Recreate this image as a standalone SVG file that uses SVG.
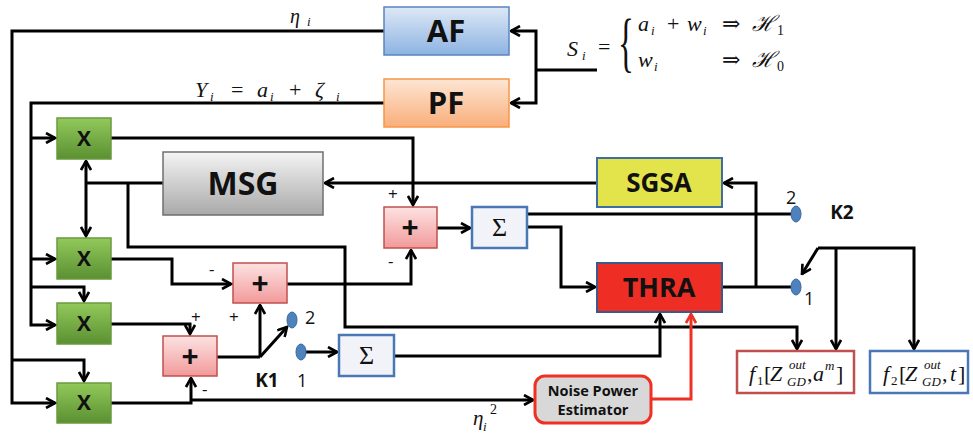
<svg xmlns="http://www.w3.org/2000/svg" width="973" height="438" viewBox="0 0 973 438">
<defs>
<linearGradient id="gAF" x1="0" y1="0" x2="0" y2="1"><stop offset="0" stop-color="#dde8f6"/><stop offset="1" stop-color="#8db3e2"/></linearGradient>
<linearGradient id="gPF" x1="0" y1="0" x2="0" y2="1"><stop offset="0" stop-color="#fde6d4"/><stop offset="1" stop-color="#f9ae7a"/></linearGradient>
<linearGradient id="gX" x1="0" y1="0" x2="0" y2="1"><stop offset="0" stop-color="#92c95a"/><stop offset="1" stop-color="#5b9032"/></linearGradient>
<linearGradient id="gMSG" x1="0" y1="0" x2="0" y2="1"><stop offset="0" stop-color="#f4f4f4"/><stop offset="1" stop-color="#a9a9a9"/></linearGradient>
<linearGradient id="gPlus" x1="0" y1="0" x2="0" y2="1"><stop offset="0" stop-color="#fde2e2"/><stop offset="1" stop-color="#f29a9a"/></linearGradient>
<marker id="ah" viewBox="0 0 12 12" refX="10.5" refY="6" markerWidth="12" markerHeight="12" markerUnits="userSpaceOnUse" orient="auto"><path d="M1.5,1 L10.5,6 L1.5,11" fill="none" stroke="#000" stroke-width="2.6"/></marker>
<marker id="ahr" viewBox="0 0 12 12" refX="10.5" refY="6" markerWidth="12" markerHeight="12" markerUnits="userSpaceOnUse" orient="auto"><path d="M1.5,1 L10.5,6 L1.5,11" fill="none" stroke="#ee3124" stroke-width="2.6"/></marker>
<style>
.ln{fill:none;stroke:#000;stroke-width:3;}
.ar{marker-end:url(#ah);}
.red{fill:none;stroke:#ee3124;stroke-width:3;marker-end:url(#ahr);}
.lbl{font-family:"Open Sans","Liberation Sans",sans-serif;font-weight:bold;fill:#111;text-anchor:middle;}
.xb{fill:url(#gX);stroke:#6a9a40;stroke-width:1.5;}
.pb{fill:url(#gPlus);stroke:#c0504d;stroke-width:1.5;}
.sb{fill:#f1f3f8;stroke:#4a78b5;stroke-width:2.5;}
.dot{fill:#4f81bd;stroke:#3a6aa0;stroke-width:1;}
.m{font-family:"Liberation Serif","DejaVu Serif",serif;font-style:italic;fill:#111;}
.mr{font-family:"Liberation Serif","DejaVu Serif",serif;fill:#111;}
.sm{font-family:"Open Sans","Liberation Sans",sans-serif;fill:#111;}
</style>
</defs>
<rect width="973" height="438" fill="#fff"/>

<g id="connectors">
<path class="ln" d="M597,70 H536"/>
<path class="ln ar" d="M536,70 V31 H511"/>
<path class="ln ar" d="M536,70 V103 H511"/>
<path class="ln ar" d="M384,31 H12 V403 H55"/>
<path class="ln ar" d="M12,360 H84 V381"/>
<path class="ln ar" d="M384,103 H31 V325 H55"/>
<path class="ln ar" d="M31,138 H55"/>
<path class="ln ar" d="M31,259 H55"/>
<path class="ln ar" d="M31,287 H84 V301"/>
<path class="ln ar" d="M111,138 H413 V205"/>
<path class="ln ar" d="M597,183 H325"/>
<path class="ln" d="M163,183 H86"/>
<path class="ln ar" d="M86,183 V161"/>
<path class="ln ar" d="M86,183 V236"/>
<path class="ln ar" d="M128,183 V247 H345 V327 H797 V349"/>
<path class="ln ar" d="M437,228 H470"/>
<path class="ln" d="M527,214 H791"/>
<path class="ln ar" d="M527,227 H561 V287 H595"/>
<path class="ln" d="M722,287 H791"/>
<path class="ln ar" d="M756,287 V183 H724"/>
<path class="ln ar" d="M818,248 H914 V349"/>
<path class="ln ar" d="M836,248 V349"/>
<path class="ln ar" d="M818,248 L802,274"/>
<path class="ln ar" d="M111,259 H172 V284 H231"/>
<path class="ln ar" d="M287,284 H411 V250"/>
<path class="ln ar" d="M111,324 H190 V334"/>
<path class="ln" d="M217,357 H260"/>
<path class="ln ar" d="M260,357 V305"/>
<path class="ln ar" d="M260,357 L287,327"/>
<path class="ln ar" d="M305,352 H337"/>
<path class="ln ar" d="M394,356 H660 V314"/>
<path class="ln ar" d="M111,403 H191 V378"/>
<path class="ln ar" d="M191,400 H533"/>
<path class="red" d="M651,399 H691 V314"/>
</g>

<g id="AF"><rect x="384" y="7" width="125" height="48" fill="url(#gAF)" stroke="#5b84bd" stroke-width="1.5"/><text class="lbl" x="446" y="42" font-size="31">AF</text></g>
<g id="PF"><rect x="384" y="79" width="125" height="48" fill="url(#gPF)" stroke="#f79646" stroke-width="1.5"/><text class="lbl" x="446" y="114" font-size="31">PF</text></g>
<g id="X1"><rect class="xb" x="57" y="118" width="54" height="41"/><text class="lbl" x="84" y="146" font-size="21">X</text></g>
<g id="X2"><rect class="xb" x="57" y="238" width="54" height="41"/><text class="lbl" x="84" y="266" font-size="21">X</text></g>
<g id="X3"><rect class="xb" x="57" y="303" width="54" height="41"/><text class="lbl" x="84" y="331" font-size="21">X</text></g>
<g id="X4"><rect class="xb" x="57" y="383" width="54" height="40"/><text class="lbl" x="84" y="410" font-size="21">X</text></g>
<g id="MSG"><rect x="163" y="152" width="160" height="63" fill="url(#gMSG)" stroke="#6f6f6f" stroke-width="1.5"/><text class="lbl" x="243" y="195" font-size="32">MSG</text></g>
<g id="SGSA"><rect x="597" y="158" width="125" height="49" fill="#e3e34b" stroke="#3f6ea5" stroke-width="2"/><text class="lbl" x="659" y="192" font-size="26">SGSA</text></g>
<g id="THRA"><rect x="597" y="263" width="125" height="49" fill="#ee2e24" stroke="#3a5a8a" stroke-width="2"/><text class="lbl" x="659" y="297" font-size="27">THRA</text></g>
<g id="Plus1"><rect class="pb" x="384" y="207" width="53" height="41"/><text class="lbl" x="410" y="238" font-size="30">+</text></g>
<g id="Plus2"><rect class="pb" x="233" y="263" width="54" height="40"/><text class="lbl" x="260" y="294" font-size="30">+</text></g>
<g id="Plus3"><rect class="pb" x="163" y="336" width="54" height="40"/><text class="lbl" x="190" y="367" font-size="30">+</text></g>
<g id="Sigma1"><rect class="sb" x="472" y="207" width="55" height="41"/><text class="mr" x="499.5" y="236" font-size="26" text-anchor="middle">Σ</text></g>
<g id="Sigma2"><rect class="sb" x="339" y="335" width="55" height="41"/><text class="mr" x="366.5" y="364" font-size="26" text-anchor="middle">Σ</text></g>
<g id="NPE"><rect x="535" y="376" width="116" height="47" rx="10" fill="#d8d8d8" stroke="#ee3124" stroke-width="3"/><text class="lbl" x="593" y="396" font-size="14.5" fill="#222">Noise Power</text><text class="lbl" x="593" y="415" font-size="14.5" fill="#222">Estimator</text></g>
<g id="f1"><rect x="737" y="351" width="117" height="42" fill="#fff" stroke="#c0504d" stroke-width="2.5"/>
<text class="m" x="749" y="381" font-size="22">f</text><text class="mr" x="757" y="385" font-size="13">1</text><text class="mr" x="764" y="381" font-size="22">[</text><text class="m" x="770" y="381" font-size="22">Z</text><text class="m" x="789" y="369" font-size="13">out</text><text class="m" x="787" y="386" font-size="13">GD</text><text class="mr" x="807" y="381" font-size="22">,</text><text class="m" x="813" y="381" font-size="22">a</text><text class="m" x="825" y="370" font-size="13">m</text><text class="mr" x="836" y="381" font-size="22">]</text></g>
<g id="f2"><rect x="870" y="351" width="98" height="42" fill="#fff" stroke="#4a78b5" stroke-width="2.5"/>
<text class="m" x="883" y="381" font-size="22">f</text><text class="mr" x="891" y="385" font-size="13">2</text><text class="mr" x="899" y="381" font-size="22">[</text><text class="m" x="905" y="381" font-size="22">Z</text><text class="m" x="924" y="369" font-size="13">out</text><text class="m" x="922" y="386" font-size="13">GD</text><text class="mr" x="942" y="381" font-size="22">,</text><text class="m" x="950" y="381" font-size="22">t</text><text class="mr" x="958" y="381" font-size="22">]</text></g>

<g id="switches">
<ellipse class="dot" cx="292" cy="320" rx="5" ry="8"/>
<ellipse class="dot" cx="301" cy="352" rx="5" ry="8"/>
<ellipse class="dot" cx="796" cy="214" rx="5" ry="8"/>
<ellipse class="dot" cx="796" cy="287" rx="5" ry="8"/>
</g>

<g id="labels">
<text class="m" x="290" y="23" font-size="20">η</text><text class="m" x="307" y="26" font-size="13">i</text>
<text class="m" x="195" y="97" font-size="22">Y</text><text class="m" x="210" y="101" font-size="13">i</text>
<text class="mr" x="231" y="97" font-size="22">=</text>
<text class="m" x="257" y="97" font-size="22">a</text><text class="m" x="270" y="101" font-size="13">i</text>
<text class="mr" x="289" y="97" font-size="22">+</text>
<text class="m" x="315" y="97" font-size="22">ζ</text><text class="m" x="336" y="101" font-size="13">i</text>
<text class="m" x="473" y="425" font-size="21">η</text><text class="m" x="483" y="431" font-size="13">i</text><text class="mr" x="490" y="414" font-size="14">2</text>
<text class="m" x="567" y="56" font-size="22">S</text><text class="m" x="582" y="60" font-size="13">i</text>
<text class="mr" x="598" y="54" font-size="22">=</text>
<text class="mr" x="618" y="64" font-size="66" transform="translate(618,64) scale(0.5,1) translate(-618,-64)">{</text>
<text class="m" x="638" y="31" font-size="22">a</text><text class="m" x="651" y="35" font-size="13">i</text>
<text class="mr" x="667" y="31" font-size="22">+</text>
<text class="m" x="687" y="31" font-size="22">w</text><text class="m" x="703" y="35" font-size="13">i</text>
<text class="mr" x="722" y="31" font-size="22">⇒</text>
<text class="m" x="752" y="31" font-size="22">ℋ</text><text class="mr" x="777" y="35" font-size="14">1</text>
<text class="m" x="638" y="67" font-size="22">w</text><text class="m" x="654" y="71" font-size="13">i</text>
<text class="mr" x="722" y="67" font-size="22">⇒</text>
<text class="m" x="752" y="67" font-size="22">ℋ</text><text class="mr" x="777" y="71" font-size="14">0</text>
<text class="sm" x="388" y="200" font-size="17">+</text>
<text class="sm" x="388" y="267" font-size="17">-</text>
<text class="sm" x="209" y="275" font-size="17">-</text>
<text class="sm" x="191" y="323" font-size="17">+</text>
<text class="sm" x="229" y="323" font-size="17">+</text>
<text class="sm" x="202" y="395" font-size="17">-</text>
<text class="sm" x="305" y="324" font-size="18">2</text>
<text class="sm" x="297" y="387" font-size="18">1</text>
<text class="lbl" x="267" y="387" font-size="19">K1</text>
<text class="sm" x="786" y="204" font-size="18">2</text>
<text class="sm" x="804" y="305" font-size="18">1</text>
<text class="lbl" x="842" y="219" font-size="19">K2</text>
</g>
</svg>
